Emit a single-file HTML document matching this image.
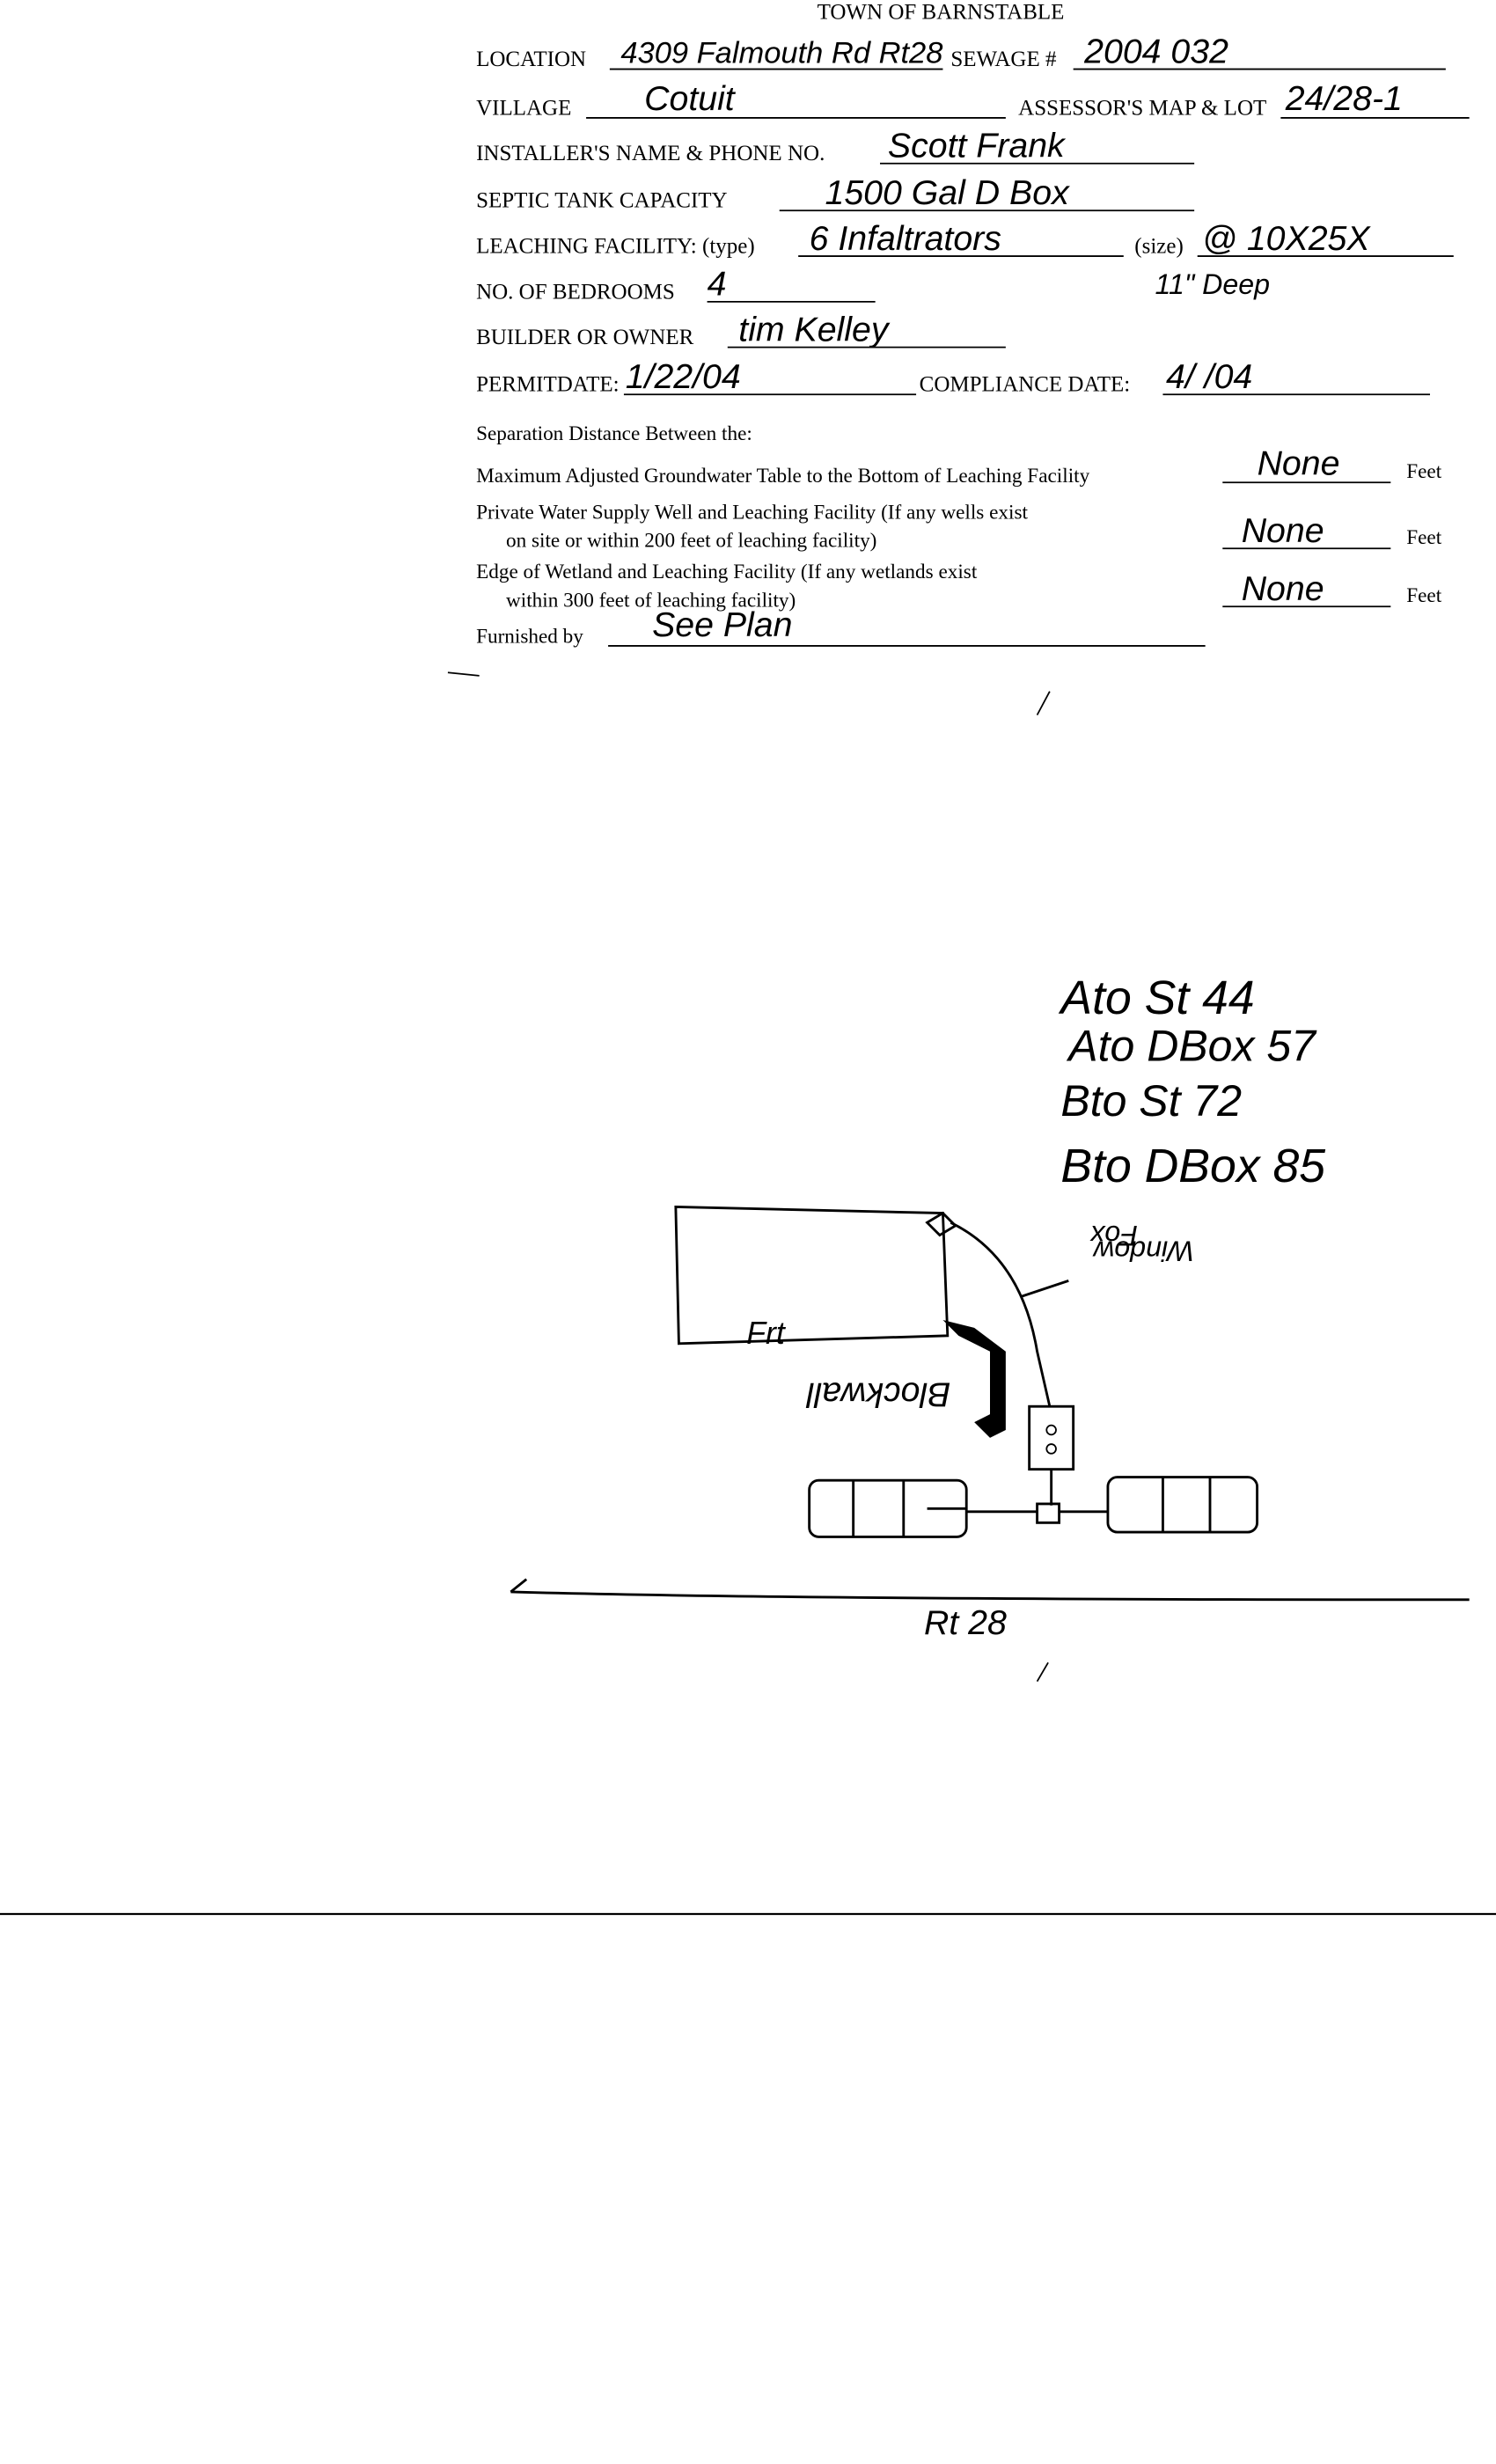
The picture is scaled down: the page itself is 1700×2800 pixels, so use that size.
<!DOCTYPE html>
<html><head><meta charset="utf-8"><style>
html,body{margin:0;padding:0;background:#fff;}
svg{display:block;}
.f{font-family:"Liberation Serif",serif;font-size:14px;fill:#000;}
.s{font-family:"Liberation Serif",serif;font-size:13px;fill:#000;}
.h{font-family:"Liberation Sans",sans-serif;font-style:italic;fill:#000;font-size:22px;}
.l{stroke:#000;stroke-width:1;fill:none;}
.d{stroke:#000;stroke-width:1.6;fill:none;}
</style></head><body>
<svg width="1700" height="2800" viewBox="0 0 952 1568" preserveAspectRatio="none">
<rect width="952" height="1568" fill="#fff"/>
<text class="f" x="520" y="12">TOWN OF BARNSTABLE</text>
<text class="f" x="303" y="42">LOCATION</text><line class="l" x1="388" y1="44" x2="600" y2="44"/>
<text class="h" x="395" y="40" style="font-size:19px" textLength="205" lengthAdjust="spacingAndGlyphs">4309 Falmouth Rd Rt28</text>
<text class="f" x="605" y="42">SEWAGE #</text><line class="l" x1="683" y1="44" x2="920" y2="44"/>
<text class="h" x="690" y="40">2004 032</text>
<text class="f" x="303" y="73">VILLAGE</text><line class="l" x1="373" y1="75" x2="640" y2="75"/>
<text class="h" x="410" y="70">Cotuit</text>
<text class="f" x="648" y="73">ASSESSOR'S MAP &amp; LOT</text><line class="l" x1="815" y1="75" x2="935" y2="75"/>
<text class="h" x="818" y="70">24/28-1</text>
<text class="f" x="303" y="102">INSTALLER'S NAME &amp; PHONE NO.</text><line class="l" x1="560" y1="104" x2="760" y2="104"/>
<text class="h" x="565" y="100">Scott Frank</text>
<text class="f" x="303" y="132">SEPTIC TANK CAPACITY</text><line class="l" x1="496" y1="134" x2="760" y2="134"/>
<text class="h" x="525" y="130">1500 Gal D Box</text>
<text class="f" x="303" y="161">LEACHING FACILITY: (type)</text><line class="l" x1="508" y1="163" x2="715" y2="163"/>
<text class="h" x="515" y="159">6 Infaltrators</text>
<text class="f" x="722" y="161">(size)</text><line class="l" x1="762" y1="163" x2="925" y2="163"/>
<text class="h" x="765" y="159">@ 10X25X</text>
<text class="h" x="735" y="187" style="font-size:18px">11" Deep</text>
<text class="f" x="303" y="190">NO. OF BEDROOMS</text><line class="l" x1="450" y1="192" x2="557" y2="192"/>
<text class="h" x="450" y="188">4</text>
<text class="f" x="303" y="219">BUILDER OR OWNER</text><line class="l" x1="463" y1="221" x2="640" y2="221"/>
<text class="h" x="470" y="217">tim Kelley</text>
<text class="f" x="303" y="249">PERMITDATE:</text><line class="l" x1="397" y1="251" x2="583" y2="251"/>
<text class="h" x="398" y="247">1/22/04</text>
<text class="f" x="585" y="249">COMPLIANCE  DATE:</text><line class="l" x1="740" y1="251" x2="910" y2="251"/>
<text class="h" x="742" y="247">4/  /04</text>
<text class="s" x="303" y="280">Separation Distance Between the:</text>
<text class="s" x="303" y="307">Maximum Adjusted Groundwater Table to the Bottom of Leaching Facility</text>
<line class="l" x1="778" y1="307" x2="885" y2="307"/><text class="h" x="800" y="302">None</text><text class="s" x="895" y="304">Feet</text>
<text class="s" x="303" y="330">Private Water Supply Well and Leaching Facility  (If any wells exist</text>
<text class="s" x="322" y="348">on site or within 200 feet of leaching facility)</text>
<line class="l" x1="778" y1="349" x2="885" y2="349"/><text class="h" x="790" y="345">None</text><text class="s" x="895" y="346">Feet</text>
<text class="s" x="303" y="368">Edge of Wetland and Leaching Facility (If any wetlands exist</text>
<text class="s" x="322" y="386">within 300 feet of leaching facility)</text>
<line class="l" x1="778" y1="386" x2="885" y2="386"/><text class="h" x="790" y="382">None</text><text class="s" x="895" y="383">Feet</text>
<text class="s" x="303" y="409">Furnished by</text><line class="l" x1="387" y1="411" x2="767" y2="411"/>
<text class="h" x="415" y="405">See Plan</text>
<line class="l" x1="285" y1="428" x2="305" y2="430"/><line class="l" x1="660" y1="455" x2="668" y2="440"/>
<text class="h" x="675" y="645" style="font-size:30px">Ato St 44</text>
<text class="h" x="680" y="675" style="font-size:28px">Ato DBox 57</text>
<text class="h" x="675" y="710" style="font-size:28px">Bto St 72</text>
<text class="h" x="675" y="752" style="font-size:30px">Bto DBox 85</text>
<path class="d" d="M430 768 L600 772 L603 850 L432 855 Z"/>
<text class="h" x="475" y="855" style="font-size:20px">Frt</text>
<path class="d" d="M590 778 l10 -6 l8 8 l-10 6 z"/>
<path class="d" d="M605 778 Q650 800 660 860 L668 895"/>
<line class="d" x1="650" y1="825" x2="680" y2="815"/>
<text class="h" x="690" y="820" style="font-size:18px" transform="rotate(180 725 805)">Window</text>
<text class="h" x="700" y="800" style="font-size:18px" transform="rotate(180 712 790)">Fox</text>
<path d="M600 840 L620 845 L640 860 L640 910 L630 915 L620 905 L630 900 L630 860 L610 850 Z" fill="#000"/>
<text class="h" x="515" y="890" style="font-size:22px" transform="rotate(180 560 885)">Blockwall</text>
<rect class="d" x="655" y="895" width="28" height="40"/>
<circle class="l" cx="669" cy="910" r="3"/><circle class="l" cx="669" cy="922" r="3"/>
<line class="d" x1="669" y1="935" x2="669" y2="958"/>
<rect class="d" x="515" y="942" width="100" height="36" rx="6"/>
<line class="d" x1="543" y1="942" x2="543" y2="978"/><line class="d" x1="575" y1="942" x2="575" y2="978"/><line class="d" x1="590" y1="960" x2="615" y2="960"/>
<line class="d" x1="615" y1="962" x2="660" y2="962"/>
<rect class="d" x="660" y="957" width="14" height="12"/>
<line class="d" x1="674" y1="962" x2="705" y2="962"/>
<rect class="d" x="705" y="940" width="95" height="35" rx="6"/>
<line class="d" x1="740" y1="940" x2="740" y2="975"/><line class="d" x1="770" y1="940" x2="770" y2="975"/>
<path class="d" d="M325 1013 Q500 1018 935 1018"/><line class="d" x1="325" y1="1013" x2="335" y2="1005"/>
<text class="h" x="588" y="1040">Rt 28</text>
<line class="l" x1="660" y1="1070" x2="667" y2="1058"/>
<line stroke="#000" stroke-width="1.3" x1="0" y1="1218" x2="952" y2="1218"/>
</svg>
</body></html>
